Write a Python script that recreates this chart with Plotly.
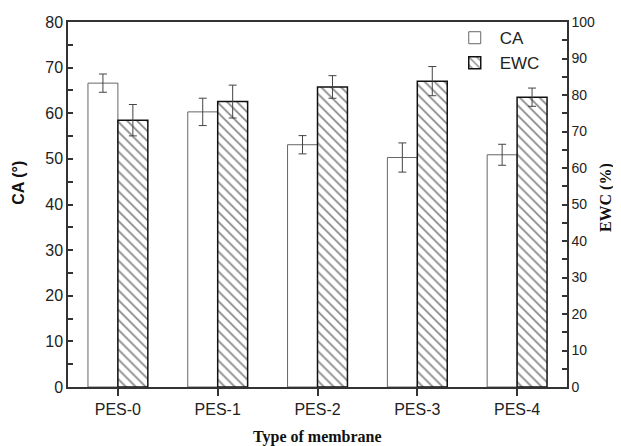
import plotly.graph_objects as go

categories = ["PES-0", "PES-1", "PES-2", "PES-3", "PES-4"]
ca_values = [66.6, 60.3, 53.1, 50.3, 50.9]
ca_errors = [2.0, 3.0, 2.0, 3.2, 2.3]
ewc_values = [73.1, 78.2, 82.2, 83.8, 79.4]
ewc_errors = [4.3, 4.5, 3.1, 4.0, 2.5]

sans = "Liberation Sans, Arial, sans-serif"
serif = "Liberation Serif, Times New Roman, serif"

fig = go.Figure()
fig.add_trace(go.Bar(
    x=categories, y=ca_values, name="CA", yaxis="y",
    offset=-0.3, width=0.3,
    marker=dict(color="white", line=dict(color="#666666", width=1)),
    error_y=dict(type="data", array=ca_errors, color="#444444", thickness=1, width=4),
))
fig.add_trace(go.Bar(
    x=categories, y=ewc_values, name="EWC", yaxis="y2",
    offset=0, width=0.3,
    marker=dict(color="white", line=dict(color="#111111", width=1.5),
                pattern=dict(shape="\\", size=7, solidity=0.25, fgcolor="#111111", bgcolor="white")),
    error_y=dict(type="data", array=ewc_errors, color="#444444", thickness=1, width=4),
))

fig.update_layout(
    width=613, height=438,
    margin=dict(l=60, r=54, t=14, b=59, autoexpand=False),
    paper_bgcolor="white", plot_bgcolor="white",
    barmode="overlay",
    showlegend=True,
    legend=dict(x=0.765, y=1.005, xanchor="left", yanchor="top",
                bgcolor="rgba(0,0,0,0)", font=dict(family=sans, size=17, color="#222"),
                itemwidth=40, tracegroupgap=0),
    xaxis=dict(
        range=[-0.5, 4.5], showline=True, linecolor="#333", linewidth=1.5, mirror=True,
        ticks="outside", ticklen=7, tickcolor="#333", tickwidth=1.5,
        tickfont=dict(family=sans, size=16, color="#222"), showgrid=False, zeroline=False,
    ),
    yaxis=dict(
        range=[0, 80], dtick=10, showline=True, linecolor="#333", linewidth=1.5,
        ticks="inside", ticklen=5, tickcolor="#333", tickwidth=1.5,
        minor=dict(dtick=5, ticks="inside", ticklen=5, tickcolor="#333", tickwidth=1.5),
        tickfont=dict(family=sans, size=16, color="#222"), showgrid=False, zeroline=False,
    ),
    yaxis2=dict(
        range=[0, 100], dtick=10, overlaying="y", side="right", showline=True,
        linecolor="#333", linewidth=1.5,
        ticks="inside", ticklen=5, tickcolor="#333", tickwidth=1.5,
        minor=dict(dtick=5, ticks="inside", ticklen=5, tickcolor="#333", tickwidth=1.5),
        tickfont=dict(family=sans, size=14, color="#222"), showgrid=False, zeroline=False,
    ),
    annotations=[
        dict(text="<b>Type of membrane</b>", xref="paper", yref="paper", x=0.5, y=-0.137,
             xanchor="center", yanchor="middle", showarrow=False,
             font=dict(family=serif, size=16, color="#111")),
        dict(text="<b>CA (°)</b>", xref="paper", yref="paper", x=-0.098, y=0.56,
             xanchor="center", yanchor="middle", showarrow=False, textangle=-90,
             font=dict(family=sans, size=16, color="#111")),
        dict(text="<b>EWC (%)</b>", xref="paper", yref="paper", x=1.078, y=0.52,
             xanchor="center", yanchor="middle", showarrow=False, textangle=-90,
             font=dict(family=serif, size=16, color="#111")),
    ],
)

fig.write_html("out.html")
